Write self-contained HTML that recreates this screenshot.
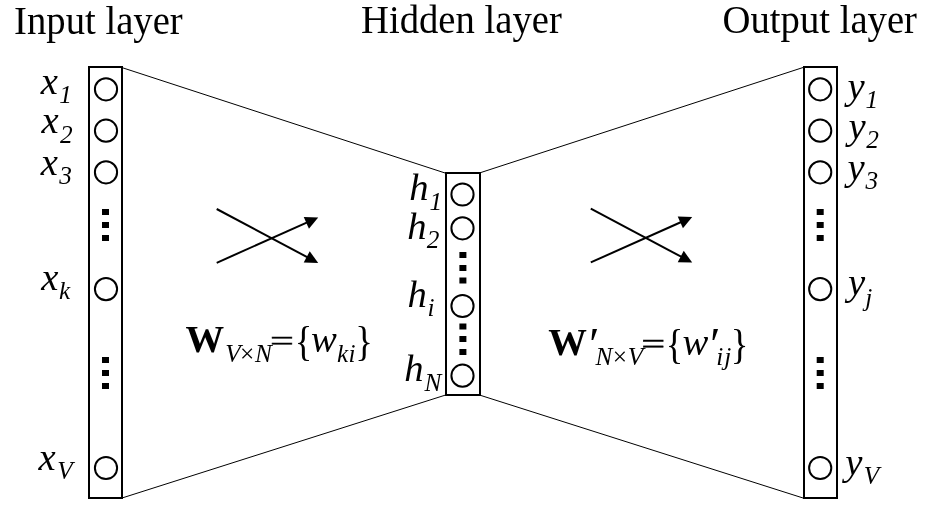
<!DOCTYPE html>
<html><head><meta charset="utf-8">
<style>
html,body{margin:0;padding:0;background:#fff;}
body{width:927px;height:529px;overflow:hidden;}
svg{display:block;will-change:transform;filter:grayscale(1);}
text{font-family:"Liberation Serif",serif;fill:#000;}
.t{font-size:38.7px;}
</style></head><body>
<svg width="927" height="529" viewBox="0 0 927 529">
<rect width="927" height="529" fill="#fff"/>
<text class="t" transform="translate(14.1,33.8) scale(1,1.057)">Input layer</text>
<text class="t" transform="translate(361,32.9) scale(1,1.057)">Hidden layer</text>
<text class="t" transform="translate(722.55,32.9) scale(1,1.057)">Output layer</text>
<g stroke="#000" stroke-width="1" fill="none">
<line x1="122" y1="67.6" x2="446" y2="173.3"/>
<line x1="122" y1="498" x2="446" y2="394.9"/>
<line x1="480" y1="172.8" x2="804" y2="67.2"/>
<line x1="480" y1="395.2" x2="804" y2="498.3"/>
</g>
<g stroke="#000" stroke-width="2" fill="#fff">
<rect x="89" y="67" width="33" height="431"/>
<rect x="804" y="67" width="33" height="431"/>
<rect x="446" y="173" width="34" height="222"/>
</g>
<g stroke="#000" stroke-width="2" fill="#fff"><circle cx="106" cy="89.3" r="11.1"/><circle cx="106" cy="130.7" r="11.1"/><circle cx="106" cy="172.3" r="11.1"/><circle cx="106" cy="289.1" r="11.1"/><circle cx="106" cy="468" r="11.1"/><circle cx="820.2" cy="89.3" r="11.1"/><circle cx="820.2" cy="130.7" r="11.1"/><circle cx="820.2" cy="172.3" r="11.1"/><circle cx="820.2" cy="289.1" r="11.1"/><circle cx="820.2" cy="468" r="11.1"/><circle cx="462.5" cy="194.5" r="11.1"/><circle cx="462.5" cy="228.3" r="11.1"/><circle cx="462.5" cy="306" r="11.1"/><circle cx="462.5" cy="375.7" r="11.1"/></g>
<g fill="#000"><rect x="102" y="209" width="7" height="6"/><rect x="102" y="222" width="7" height="6"/><rect x="102" y="235" width="7" height="6"/><rect x="102" y="357" width="7" height="6"/><rect x="102" y="370" width="7" height="6"/><rect x="102" y="383" width="7" height="6"/><rect x="816.7" y="209" width="7" height="6"/><rect x="816.7" y="222" width="7" height="6"/><rect x="816.7" y="235" width="7" height="6"/><rect x="816.7" y="357" width="7" height="6"/><rect x="816.7" y="370" width="7" height="6"/><rect x="816.7" y="383" width="7" height="6"/><rect x="459.4" y="252" width="7" height="6"/><rect x="459.4" y="265" width="7" height="6"/><rect x="459.4" y="277.5" width="7" height="6"/><rect x="459.4" y="323.5" width="7" height="6"/><rect x="459.4" y="336" width="7" height="6"/><rect x="459.4" y="349" width="7" height="6"/></g>
<line x1="216.7" y1="209.0" x2="307.61" y2="257.36" stroke="#000" stroke-width="2"/><polygon points="318.20,263.00 303.72,262.54 309.73,251.24" fill="#000"/>
<line x1="216.7" y1="262.8" x2="307.24" y2="222.39" stroke="#000" stroke-width="2"/><polygon points="318.20,217.50 308.94,228.64 303.72,216.95" fill="#000"/>
<line x1="590.8" y1="208.6" x2="681.61" y2="256.96" stroke="#000" stroke-width="2"/><polygon points="692.20,262.60 677.72,262.14 683.73,250.84" fill="#000"/>
<line x1="590.8" y1="262.4" x2="681.24" y2="221.99" stroke="#000" stroke-width="2"/><polygon points="692.20,217.10 682.94,228.25 677.72,216.56" fill="#000"/>
<text><tspan x="40.74" y="93.68" style="font-size:38.7px;font-style:italic;">x</tspan><tspan x="59.33" y="103.00" style="font-size:25.3px;font-style:italic;">1</tspan></text>
<text><tspan x="41.49" y="133.28" style="font-size:38.7px;font-style:italic;">x</tspan><tspan x="60.05" y="142.78" style="font-size:25.3px;font-style:italic;">2</tspan></text>
<text><tspan x="40.74" y="174.53" style="font-size:38.7px;font-style:italic;">x</tspan><tspan x="59.13" y="184.25" style="font-size:25.3px;font-style:italic;">3</tspan></text>
<text><tspan x="41.34" y="290.48" style="font-size:38.7px;font-style:italic;">x</tspan><tspan x="59.09" y="299.43" style="font-size:25.3px;font-style:italic;">k</tspan></text>
<text><tspan x="38.49" y="469.68" style="font-size:38.7px;font-style:italic;">x</tspan><tspan x="57.15" y="479.19" style="font-size:25.3px;font-style:italic;">V</tspan></text>
<text><tspan x="847.47" y="98.81" style="font-size:38.7px;font-style:italic;">y</tspan><tspan x="865.53" y="107.95" style="font-size:25.3px;font-style:italic;">1</tspan></text>
<text><tspan x="848.57" y="138.61" style="font-size:38.7px;font-style:italic;">y</tspan><tspan x="866.25" y="147.58" style="font-size:25.3px;font-style:italic;">2</tspan></text>
<text><tspan x="847.47" y="180.46" style="font-size:38.7px;font-style:italic;">y</tspan><tspan x="865.53" y="189.45" style="font-size:25.3px;font-style:italic;">3</tspan></text>
<text><tspan x="848.12" y="294.56" style="font-size:38.7px;font-style:italic;">y</tspan><tspan x="865.20" y="305.83" style="font-size:25.3px;font-style:italic;">j</tspan></text>
<text><tspan x="845.32" y="475.36" style="font-size:38.7px;font-style:italic;">y</tspan><tspan x="863.75" y="484.19" style="font-size:25.3px;font-style:italic;">V</tspan></text>
<text><tspan x="409.23" y="199.58" style="font-size:38.7px;font-style:italic;">h</tspan><tspan x="429.38" y="209.85" style="font-size:25.3px;font-style:italic;">1</tspan></text>
<text><tspan x="407.18" y="239.18" style="font-size:38.7px;font-style:italic;">h</tspan><tspan x="426.75" y="248.43" style="font-size:25.3px;font-style:italic;">2</tspan></text>
<text><tspan x="407.58" y="306.58" style="font-size:38.7px;font-style:italic;">h</tspan><tspan x="427.41" y="315.83" style="font-size:25.3px;font-style:italic;">i</tspan></text>
<text><tspan x="404.23" y="380.88" style="font-size:38.7px;font-style:italic;">h</tspan><tspan x="424.52" y="391.18" style="font-size:25.3px;font-style:italic;">N</tspan></text>
<text><tspan x="185.53" y="351.70" style="font-size:38.7px;font-weight:bold;">W</tspan><tspan x="225.25" y="361.80" style="font-size:25.3px;font-style:italic;">V</tspan><tspan x="239.95" y="362.10" style="font-size:25.3px;">×</tspan><tspan x="255.02" y="361.80" style="font-size:25.3px;font-style:italic;">N</tspan><tspan x="311.12" y="352.20" style="font-size:38.7px;font-style:italic;">w</tspan><tspan x="336.89" y="361.70" style="font-size:25.3px;font-style:italic;">k</tspan><tspan x="348.46" y="361.70" style="font-size:25.3px;font-style:italic;">i</tspan></text>
<text transform="translate(269.92,349.50) scale(1.0963,0.7007)" style="font-size:38.7px;stroke:#000;stroke-width:0.6px">=</text>
<text transform="translate(294.78,355.39) scale(0.8720,1.0006)" style="font-size:41.9px;">{</text>
<text transform="translate(355.35,355.39) scale(0.8800,1.0006)" style="font-size:41.9px;">}</text>
<text><tspan x="548.23" y="354.60" style="font-size:38.7px;font-weight:bold;">W</tspan><tspan x="586.22" y="359.51" style="font-size:47px;font-style:italic;">′</tspan><tspan x="595.62" y="364.70" style="font-size:25.3px;font-style:italic;">N</tspan><tspan x="612.65" y="365.00" style="font-size:25.3px;">×</tspan><tspan x="627.75" y="364.70" style="font-size:25.3px;font-style:italic;">V</tspan><tspan x="682.47" y="355.10" style="font-size:38.7px;font-style:italic;">w</tspan><tspan x="707.27" y="359.56" style="font-size:47px;font-style:italic;">′</tspan><tspan x="716.26" y="365.10" style="font-size:25.3px;font-style:italic;">i</tspan><tspan x="724.29" y="365.10" style="font-size:25.3px;font-style:italic;">j</tspan></text>
<text transform="translate(641.32,353.85) scale(1.0963,0.7591)" style="font-size:38.7px;stroke:#000;stroke-width:0.6px">=</text>
<text transform="translate(665.68,358.19) scale(0.8720,1.0006)" style="font-size:41.9px;">{</text>
<text transform="translate(730.65,358.19) scale(0.8800,1.0006)" style="font-size:41.9px;">}</text>
</svg>
</body></html>
